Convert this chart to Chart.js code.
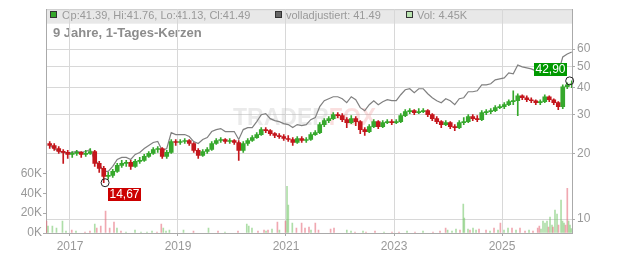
<!DOCTYPE html>
<html>
<head>
<meta charset="utf-8">
<script src="https://cdn.jsdelivr.net/npm/chart.js@4.4.1/dist/chart.umd.min.js"></script>
<style>
  html, body { margin: 0; padding: 0; background: #fff; }
</style>
</head>
<body>
<canvas id="kurs" width="632" height="253"></canvas>
<script>
// Monatskerzen (gelesen aus dem Bild)
const monate = [
  '2016-08','2016-09','2016-10','2016-11','2016-12',
  '2017-01','2017-02','2017-03','2017-04','2017-05','2017-06','2017-07','2017-08','2017-09','2017-10','2017-11','2017-12',
  '2018-01','2018-02','2018-03','2018-04','2018-05','2018-06','2018-07','2018-08','2018-09','2018-10','2018-11','2018-12',
  '2019-01','2019-02','2019-03','2019-04','2019-05','2019-06','2019-07','2019-08','2019-09','2019-10','2019-11','2019-12',
  '2020-01','2020-02','2020-03','2020-04','2020-05','2020-06','2020-07','2020-08','2020-09','2020-10','2020-11','2020-12',
  '2021-01','2021-02','2021-03','2021-04','2021-05','2021-06','2021-07','2021-08','2021-09','2021-10','2021-11','2021-12',
  '2022-01','2022-02','2022-03','2022-04','2022-05','2022-06','2022-07','2022-08','2022-09','2022-10','2022-11','2022-12',
  '2023-01','2023-02','2023-03','2023-04','2023-05','2023-06','2023-07','2023-08','2023-09','2023-10','2023-11','2023-12',
  '2024-01','2024-02','2024-03','2024-04','2024-05','2024-06','2024-07','2024-08','2024-09','2024-10','2024-11','2024-12',
  '2025-01','2025-02','2025-03','2025-04','2025-05','2025-06','2025-07','2025-08','2025-09','2025-10','2025-11','2025-12',
  '2026-01','2026-02','2026-03','2026-04'
];
const eroeffnung = [
  22.17, 21.71, 21.04, 20.39, 20.18,
  19.76, 19.97, 20.18, 19.76, 19.97, 20.39, 17.98, 17.07, 15.69, 15.86, 16.54, 17.61,
  17.98, 18.17, 17.43, 18.36, 18.56, 19.35, 19.97, 20.82, 21.04, 19.35, 20.18, 22.64,
  22.41, 22.64, 22.88, 22.17, 20.61, 19.56, 20.39, 20.82, 22.17, 22.88, 23.12, 22.64,
  22.88, 22.41, 20.61, 22.17, 22.88, 23.61, 24.37, 25.68, 25.41, 24.62, 24.12, 23.86,
  23.37, 23.12, 22.41, 23.37, 22.88, 23.12, 24.37, 24.88, 27.06, 28.22, 28.82, 30.05,
  29.74, 28.52, 27.64, 28.82, 27.93, 25.68, 25.15, 26.50, 27.93, 26.50, 27.64, 27.93,
  27.64, 27.93, 29.74, 31.02, 31.34, 30.69, 31.02, 31.34, 30.05, 28.82, 27.93, 27.06,
  27.64, 26.50, 26.22, 27.64, 27.93, 29.43, 28.82, 28.52, 30.69, 31.02, 31.34, 32.35,
  32.69, 33.38, 34.45, 34.81, 36.68, 35.92, 35.18, 34.81, 34.09, 34.45, 36.30, 35.18,
  34.09, 32.69, 40.31, 41.17
];
const hoch = [
  22.64, 22.17, 21.49, 20.82, 20.61,
  20.39, 20.61, 20.39, 20.61, 21.04, 20.61, 18.36, 17.43, 16.36, 16.89, 17.98, 18.56,
  18.56, 18.56, 18.75, 19.15, 19.76, 20.39, 21.26, 21.49, 21.26, 20.61, 23.12, 23.12,
  23.12, 23.37, 23.12, 22.41, 21.04, 20.82, 21.26, 22.64, 23.37, 23.61, 23.37, 23.37,
  23.12, 22.88, 22.64, 23.37, 24.12, 24.88, 26.22, 26.22, 25.68, 24.88, 24.62, 24.37,
  24.12, 23.61, 23.86, 23.86, 23.61, 24.88, 25.41, 27.64, 28.82, 29.43, 30.69, 30.69,
  30.37, 29.12, 29.74, 29.43, 28.22, 26.22, 27.06, 28.52, 28.22, 28.22, 28.52, 28.52,
  28.52, 30.37, 31.68, 32.01, 31.68, 32.01, 32.01, 31.68, 30.37, 29.43, 28.22, 28.22,
  27.93, 27.06, 28.22, 29.12, 30.05, 30.05, 29.74, 31.34, 31.68, 32.01, 33.03, 33.38,
  34.09, 35.18, 38.66, 37.46, 37.07, 36.68, 35.92, 35.18, 35.18, 37.07, 36.68, 35.55,
  34.45, 41.17, 42.04, 42.90
];
const tief = [
  21.04, 20.61, 19.97, 17.98, 18.95,
  19.15, 19.56, 19.15, 19.35, 19.76, 17.43, 16.36, 14.67, 15.21, 15.53, 16.36, 17.25,
  17.43, 16.89, 17.25, 17.98, 18.36, 19.15, 19.76, 20.18, 18.95, 18.95, 19.97, 21.71,
  21.94, 22.17, 21.71, 20.18, 18.95, 19.35, 19.97, 20.61, 21.94, 22.41, 22.17, 22.17,
  21.94, 18.56, 20.18, 21.71, 22.64, 23.37, 24.12, 24.88, 24.12, 23.61, 23.37, 22.88,
  22.64, 21.71, 22.17, 22.41, 22.41, 22.88, 24.12, 24.62, 26.50, 27.64, 28.52, 29.12,
  27.93, 26.22, 27.35, 26.78, 24.62, 24.12, 24.88, 26.22, 25.95, 26.22, 27.35, 27.06,
  27.35, 27.64, 29.43, 30.37, 30.05, 30.37, 30.69, 29.43, 28.22, 27.35, 26.22, 26.78,
  25.95, 25.41, 25.95, 27.06, 27.64, 28.22, 27.93, 28.22, 30.05, 30.37, 31.02, 32.01,
  32.01, 33.03, 33.38, 29.74, 35.18, 34.45, 34.09, 33.38, 33.38, 34.09, 34.45, 33.38,
  31.68, 32.01, 39.48, 39.89
];
const schluss = [
  21.71, 21.04, 20.39, 20.18, 19.76,
  19.97, 20.18, 19.76, 19.97, 20.39, 17.98, 17.07, 15.69, 15.86, 16.54, 17.61, 17.98,
  18.17, 17.43, 18.36, 18.56, 19.35, 19.97, 20.82, 21.04, 19.35, 20.18, 22.64, 22.41,
  22.64, 22.88, 22.17, 20.61, 19.56, 20.39, 20.82, 22.17, 22.88, 23.12, 22.64, 22.88,
  22.41, 20.61, 22.17, 22.88, 23.61, 24.37, 25.68, 25.41, 24.62, 24.12, 23.86, 23.37,
  23.12, 22.41, 23.37, 22.88, 23.12, 24.37, 24.88, 27.06, 28.22, 28.82, 30.05, 29.74,
  28.52, 27.64, 28.82, 27.93, 25.68, 25.15, 26.50, 27.93, 26.50, 27.64, 27.93, 27.64,
  27.93, 29.74, 31.02, 31.34, 30.69, 31.02, 31.34, 30.05, 28.82, 27.93, 27.06, 27.64,
  26.50, 26.22, 27.64, 27.93, 29.43, 28.82, 28.52, 30.69, 31.02, 31.34, 32.35, 32.69,
  33.38, 34.45, 34.81, 36.68, 35.92, 35.18, 34.81, 34.09, 34.45, 36.30, 35.18, 34.09,
  32.69, 40.31, 41.17, 41.49
];
// volladjustierte Kurve
const adjustiert = [
  21.71, 21.04, 20.39, 20.18, 19.97,
  20.18, 20.39, 20.18, 20.39, 20.82, 18.56, 17.80, 16.54, 16.54, 17.43, 18.75, 19.15,
  19.15, 18.75, 19.76, 20.18, 21.04, 21.71, 22.41, 22.64, 20.61, 21.04, 24.88, 24.37,
  24.37, 24.37, 23.86, 22.64, 22.17, 23.12, 23.61, 25.15, 25.68, 25.95, 25.15, 25.15,
  25.15, 23.12, 25.68, 26.22, 26.22, 27.93, 30.05, 30.37, 28.82, 28.22, 27.93, 27.35,
  27.06, 26.22, 27.06, 26.78, 27.06, 28.52, 29.12, 32.69, 34.81, 35.55, 36.30, 36.30,
  35.55, 34.09, 36.30, 35.18, 32.35, 31.34, 33.38, 34.81, 33.38, 34.45, 35.18, 34.81,
  34.81, 37.07, 39.06, 39.48, 37.86, 39.48, 39.48, 37.46, 35.92, 34.81, 34.09, 35.55,
  34.81, 33.38, 35.55, 35.92, 38.26, 38.26, 38.66, 41.17, 41.17, 41.60, 43.37, 43.83,
  44.29, 46.67, 46.19, 50.76, 49.71, 49.19, 48.68, 47.66, 47.66, 49.71, 48.17, 47.17,
  46.67, 55.19, 56.94, 58.15
];
// Volumen (Tausend), Datum als Dezimaljahr
const volDatum = [
  2016.565, 2016.593, 2016.674, 2016.750, 2016.861, 2016.926, 2017.033, 2017.111, 2017.278, 2017.370,
  2017.459, 2017.496, 2017.570, 2017.659, 2017.735, 2017.815, 2017.870, 2017.944, 2018.037, 2018.204,
  2018.315, 2018.426, 2018.519, 2018.611, 2018.691, 2018.728, 2018.778, 2018.841, 2019.102, 2019.287,
  2019.565, 2019.741, 2019.870, 2020.111, 2020.274, 2020.311, 2020.370, 2020.481, 2020.593, 2020.630,
  2020.667, 2020.741, 2020.841, 2020.878, 2020.991, 2021.019, 2021.043, 2021.117, 2021.193, 2021.289,
  2021.352, 2021.426, 2021.463, 2021.543, 2021.602, 2021.826, 2021.889, 2022.126, 2022.204, 2022.278,
  2022.426, 2022.481, 2022.648, 2022.815, 2022.963, 2023.093, 2023.241, 2023.389, 2023.537, 2023.722,
  2023.852, 2023.956, 2023.993, 2024.074, 2024.148, 2024.222, 2024.283, 2024.302, 2024.370, 2024.407,
  2024.463, 2024.519, 2024.574, 2024.704, 2024.778, 2024.852, 2024.926, 2024.970, 2025.037, 2025.111,
  2025.185, 2025.259, 2025.333, 2025.426, 2025.500, 2025.574, 2025.661, 2025.691, 2025.722, 2025.759,
  2025.796, 2025.833, 2025.861, 2025.889, 2025.926, 2025.944, 2025.981, 2026.019, 2026.046, 2026.093,
  2026.120, 2026.148, 2026.176, 2026.209, 2026.233, 2026.259, 2026.283
];
const volumen = [
  12, 7, 7, 5, 12, 2, 3, 2, 1, 2,
  9, 5, 7, 22, 5, 11, 5, 2, 1, 3,
  1, 1, 2, 1, 9, 5, 2, 3, 3, 2,
  5, 2, 1, 2, 9, 7, 5, 2, 3, 2,
  3, 4, 11, 3, 12, 47, 28, 10, 5, 10,
  5, 6, 3, 10, 3, 4, 5, 3, 2, 1,
  2, 1, 2, 1, 1, 1, 2, 1, 2, 1,
  2, 5, 3, 2, 4, 3, 29, 15, 4, 3,
  5, 3, 4, 3, 2, 5, 3, 10, 3, 5,
  5, 3, 5, 2, 3, 2, 5, 7, 4, 12,
  10, 12, 6, 16, 8, 6, 23, 19, 8, 33,
  12, 10, 8, 45, 12, 8, 4.45
];
const volSteigend = [
  0, 1, 1, 1, 1, 1, 0, 1, 0, 0,
  1, 0, 0, 0, 0, 0, 1, 0, 1, 1,
  1, 1, 1, 0, 0, 1, 1, 1, 1, 0,
  1, 0, 1, 0, 1, 1, 1, 0, 0, 1,
  0, 1, 0, 1, 0, 1, 1, 1, 0, 0,
  0, 0, 1, 0, 0, 0, 0, 1, 1, 0,
  1, 0, 0, 1, 0, 0, 1, 0, 1, 0,
  0, 0, 1, 1, 1, 0, 1, 1, 1, 0,
  1, 1, 0, 0, 1, 0, 1, 0, 1, 1,
  0, 1, 0, 0, 1, 0, 0, 0, 1, 1,
  1, 1, 0, 1, 1, 0, 1, 1, 0, 1,
  1, 1, 0, 0, 1, 1, 1
];
const jahrTicks = [2017, 2019, 2021, 2023, 2025];
const kursTicks = [10, 20, 30, 40, 50, 60];
const volTicks = [0, 20, 40, 60];
const tiefPunkt = { datum: 2017.65, wert: 14.67 };
const hochPunkt = { datum: 2026.253, wert: 42.90 };
const letzte = { op: '41.39', hi: '41.76', lo: '41.13', cl: '41.49', adj: '41.49', vol: '4.45K' };

const gruen = '#36a82c';
const rot = '#c4161c';
const schrift = '"Liberation Sans", Arial, sans-serif';

const xWert = m => { const [j, mo] = m.split('-').map(Number); return j + (mo - 0.5) / 12; };
const kerzenFarbe = schluss.map((c, i) => c >= eroeffnung[i] ? gruen : rot);

const kopf = {
  id: 'kopf',
  beforeDraw(chart) {
    const { ctx, chartArea: a } = chart;
    ctx.save();
    ctx.fillStyle = '#e8e8e8';
    ctx.fillRect(a.left, a.top, a.right - a.left, 14.5);
    ctx.strokeStyle = '#cccccc';
    ctx.lineWidth = 1;
    ctx.beginPath();
    ctx.moveTo(a.left, a.top + 0.5);
    ctx.lineTo(a.right, a.top + 0.5);
    ctx.stroke();

    const kaestchen = (x, fuell) => {
      ctx.fillStyle = fuell;
      ctx.fillRect(x + 0.5, 11.5, 6, 6);
      ctx.strokeStyle = '#333';
      ctx.strokeRect(x + 0.5, 11.5, 6, 6);
    };
    ctx.font = '11px ' + schrift;
    ctx.textBaseline = 'middle';
    kaestchen(50, gruen);
    ctx.fillStyle = '#999';
    ctx.fillText('Op:' + letzte.op + ', Hi:' + letzte.hi + ', Lo:' + letzte.lo + ', Cl:' + letzte.cl, 62, 15.5);
    kaestchen(275, '#666');
    ctx.fillStyle = '#999';
    ctx.fillText('volladjustiert: ' + letzte.adj, 286, 15.5);
    kaestchen(406, '#b9e3b0');
    ctx.fillStyle = '#999';
    ctx.fillText('Vol: ' + letzte.vol, 417, 15.5);

    ctx.font = 'bold 13px ' + schrift;
    ctx.fillStyle = '#8c8c8c';
    ctx.textBaseline = 'alphabetic';
    ctx.fillText('9 Jahre, 1-Tages-Kerzen', 53, 37);
    ctx.restore();
  },
  beforeDatasetsDraw(chart) {
    const { ctx } = chart;
    ctx.save();
    ctx.font = 'bold 23px ' + schrift;
    ctx.textBaseline = 'alphabetic';
    ctx.fillStyle = 'rgba(180,180,180,0.28)';
    ctx.fillText('TRADER', 233, 125);
    const w = ctx.measureText('TRADER').width;
    ctx.fillStyle = 'rgba(230,110,110,0.22)';
    ctx.fillText('FOX', 233 + w, 125);
    ctx.restore();
  }
};

const marken = {
  id: 'marken',
  afterDatasetsDraw(chart) {
    const { ctx } = chart;
    const sx = chart.scales.x, sy = chart.scales.kurs;
    const zeichne = (p, farbe, unten) => {
      const cx = sx.getPixelForValue(p.datum), cy = sy.getPixelForValue(p.wert);
      ctx.save();
      ctx.strokeStyle = '#222';
      ctx.lineWidth = 1;
      ctx.beginPath();
      ctx.arc(cx, cy, 4, 0, Math.PI * 2);
      ctx.stroke();
      ctx.font = '12px ' + schrift;
      const text = p.wert.toFixed(2).replace('.', ',');
      const w = ctx.measureText(text).width + 3, h = 13;
      const bx = unten ? cx + 3 : cx - 3 - w;
      const by = unten ? cy + 5 : cy - 5 - h;
      ctx.fillStyle = farbe;
      ctx.fillRect(Math.round(bx), Math.round(by), Math.round(w), h);
      ctx.fillStyle = '#fff';
      ctx.textBaseline = 'middle';
      ctx.textAlign = 'center';
      ctx.fillText(text, Math.round(bx) + Math.round(w) / 2, Math.round(by) + h / 2 + 0.5);
      ctx.restore();
    };
    zeichne(tiefPunkt, '#cc0000', true);
    zeichne(hochPunkt, '#009900', false);
  }
};

new Chart(document.getElementById('kurs'), {
  type: 'bar',
  data: {
    datasets: [
      {
        type: 'line',
        label: 'volladjustiert',
        data: monate.map((m, i) => ({ x: xWert(m), y: adjustiert[i] })),
        yAxisID: 'kurs',
        borderColor: '#808080',
        borderWidth: 1.2,
        pointRadius: 0,
        tension: 0,
        order: 3
      },
      {
        label: 'Docht',
        data: monate.map((m, i) => ({ x: xWert(m), y: [tief[i], hoch[i]] })),
        yAxisID: 'kurs',
        backgroundColor: kerzenFarbe,
        barThickness: 1,
        grouped: false,
        order: 2
      },
      {
        label: 'Körper',
        data: monate.map((m, i) => ({ x: xWert(m), y: [eroeffnung[i], schluss[i]] })),
        yAxisID: 'kurs',
        backgroundColor: kerzenFarbe,
        barThickness: 4,
        minBarLength: 1,
        grouped: false,
        order: 1
      },
      {
        label: 'Vol',
        data: volDatum.map((d, i) => ({ x: d, y: volumen[i] * 1000 })),
        yAxisID: 'vol',
        backgroundColor: volSteigend.map(u => u ? 'rgba(120,200,110,0.6)' : 'rgba(230,110,125,0.6)'),
        barThickness: 1,
        grouped: false,
        order: 5
      }
    ]
  },
  options: {
    responsive: false,
    animation: false,
    layout: { padding: { top: 8, left: 0, right: 0, bottom: 0 } },
    plugins: { legend: { display: false }, tooltip: { enabled: false } },
    scales: {
      x: {
        type: 'linear',
        min: 2016.556,
        max: 2026.296,
        offset: false,
        afterBuildTicks: s => { s.ticks = jahrTicks.map(v => ({ value: v })); },
        afterFit: s => { s.height = 20; },
        grid: { color: '#d8d8d8', tickLength: 3, offset: false, tickColor: '#aaa' },
        border: { color: '#aaa' },
        ticks: { color: '#999', font: { size: 12, family: schrift }, padding: 3, maxRotation: 0, autoSkip: false, callback: v => String(v) }
      },
      kurs: {
        type: 'logarithmic',
        position: 'right',
        min: 8.636,
        max: 91.3,
        afterBuildTicks: s => { s.ticks = kursTicks.map(v => ({ value: v })); },
        afterFit: s => { s.width = 60; },
        grid: { color: '#d8d8d8', tickLength: 3, tickColor: '#aaa' },
        border: { color: '#aaa' },
        ticks: { color: '#999', font: { size: 12, family: schrift }, padding: 2, callback: v => String(v) }
      },
      vol: {
        type: 'linear',
        position: 'left',
        min: 0,
        max: 225000,
        afterBuildTicks: s => { s.ticks = volTicks.map(v => ({ value: v * 1000 })); },
        afterFit: s => { s.width = 46; },
        grid: { drawOnChartArea: false, tickLength: 3, tickColor: '#aaa' },
        border: { color: '#aaa' },
        ticks: { color: '#999', font: { size: 12, family: schrift }, padding: 1, callback: v => (v / 1000) + 'K' }
      }
    }
  },
  plugins: [kopf, marken]
});
</script>
</body>
</html>
